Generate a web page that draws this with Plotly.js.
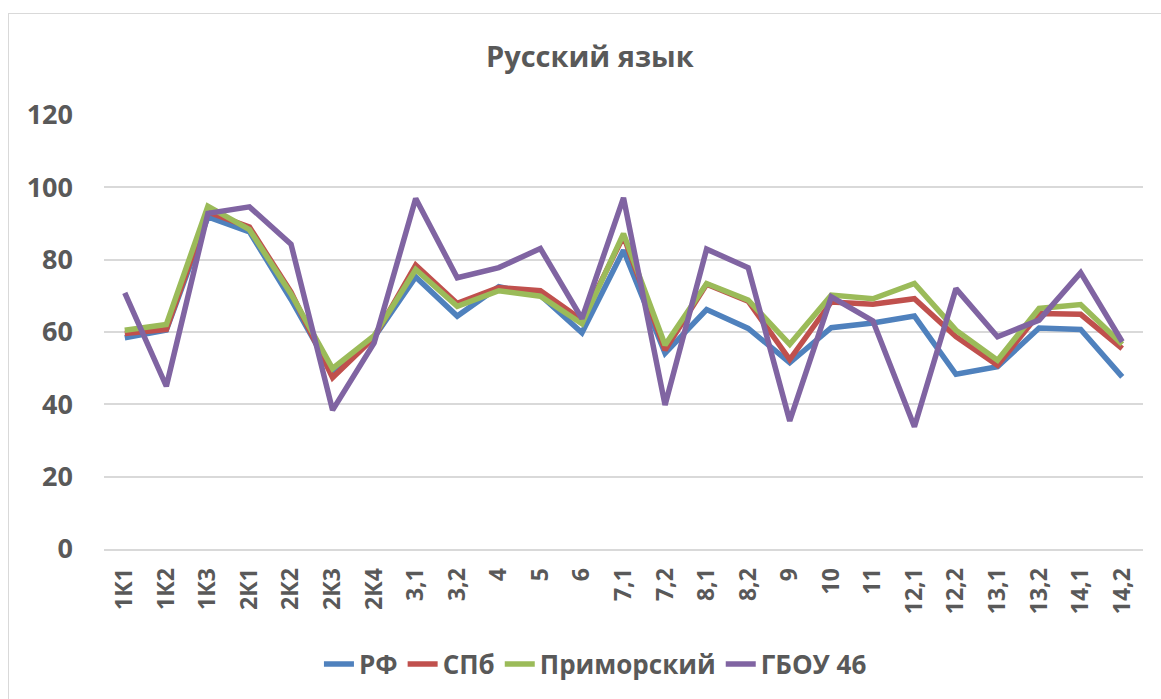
<!DOCTYPE html>
<html>
<head>
<meta charset="utf-8">
<script src="https://cdn.plot.ly/plotly-3.0.1.min.js"></script>
<style>
html,body{margin:0;padding:0;background:#fff;}
#frame{position:absolute;left:8px;top:13px;width:1200px;height:720px;border-left:1.5px solid #d9d9d9;border-top:1.5px solid #d9d9d9;box-sizing:border-box;}
#chart{position:absolute;left:0;top:0;width:1161px;height:699px;}
</style>
</head>
<body>
<div id="frame"></div>
<div id="chart"></div>
<script>
const categories = ['1К1','1К2','1К3','2К1','2К2','2К3','2К4','3,1','3,2','4','5','6','7,1','7,2','8,1','8,2','9','10','11','12,1','12,2','13,1','13,2','14,1','14,2'];
const seriesNames = ['РФ','СПб','Приморский','ГБОУ 46'];
const rf = [58.4, 60.5, 91.8, 87.7, 69, 48.6, 58.5, 75.2, 64.4, 72.5, 70.2, 59.8, 82.6, 54.1, 66.2, 61.0, 51.5, 61.2, 62.5, 64.4, 48.3, 50.4, 61.1, 60.7, 47.6];
const spb = [59.6, 60.7, 93.2, 89, 71, 47.4, 58.5, 78.5, 67.9, 72.3, 71.4, 63.3, 86.5, 55, 73.2, 68.5, 52.4, 68.3, 67.7, 69.2, 58.7, 50.8, 65.1, 64.9, 55.4];
const primorsky = [60.5, 62.1, 94.8, 88.3, 70.5, 49.9, 59, 77.3, 67.1, 71.4, 69.9, 62.3, 87.2, 56.4, 73.4, 68.8, 56.6, 70.2, 69.2, 73.4, 60.5, 52.2, 66.5, 67.6, 56.6];
const gbou46 = [70.8, 45.0, 92.8, 94.6, 84.3, 38.4, 57, 96.9, 75.0, 77.8, 83.1, 63.7, 97.1, 39.8, 82.9, 77.8, 35.4, 69.7, 63.1, 33.8, 72.0, 58.7, 63.3, 76.4, 57.3];
const yTicks = [0, 20, 40, 60, 80, 100, 120];

const colors = ['#4F81BD','#C0504D','#9BBB59','#8064A2'];
const allValues = [rf, spb, primorsky, gbou46];
const traces = allValues.map((vals, i) => ({
  type: 'scatter', mode: 'lines',
  x: categories, y: vals, name: seriesNames[i],
  line: {color: colors[i], width: 5.5, shape: 'linear'},
  hoverinfo: 'x+y+name'
}));

const font = 'Open Sans, DejaVu Sans, sans-serif';
const layout = {
  width: 1161, height: 699,
  paper_bgcolor: 'rgba(0,0,0,0)', plot_bgcolor: 'rgba(0,0,0,0)',
  margin: {l: 104, r: 18, t: 115, b: 150},
  title: {text: '<b>Русский язык</b>', font: {family: font, size: 29, color: '#595959'},
          xref: 'container', yref: 'container', x: 0.508, y: 0.918, xanchor: 'center', yanchor: 'middle'},
  xaxis: {
    type: 'category', range: [-0.5, categories.length - 0.5], tickangle: -90, showgrid: false, zeroline: false,
    showline: true, linecolor: '#d9d9d9', linewidth: 2,
    ticks: '', tickfont: {family: font, size: 23, color: '#595959', weight: 'bold'},
    ticklabelstandoff: 8, automargin: false
  },
  yaxis: {
    range: [0, 120], tickvals: yTicks, ticktext: yTicks.map(String),
    showgrid: true, gridcolor: '#d9d9d9', gridwidth: 2, zeroline: false,
    showline: false, ticks: '', tickfont: {family: font, size: 27, color: '#595959', weight: 'bold'},
    ticklabelstandoff: 30, automargin: false, fixedrange: true
  },
  legend: {
    orientation: 'h', x: 0.473, xanchor: 'center', y: -0.265, yanchor: 'middle',
    font: {family: font, size: 26, color: '#595959', weight: 'bold'},
    itemwidth: 30, traceorder: 'normal', bgcolor: 'rgba(0,0,0,0)'
  },
  showlegend: true
};

Plotly.newPlot('chart', traces, layout, {displayModeBar: false, staticPlot: true});
</script>
</body>
</html>
